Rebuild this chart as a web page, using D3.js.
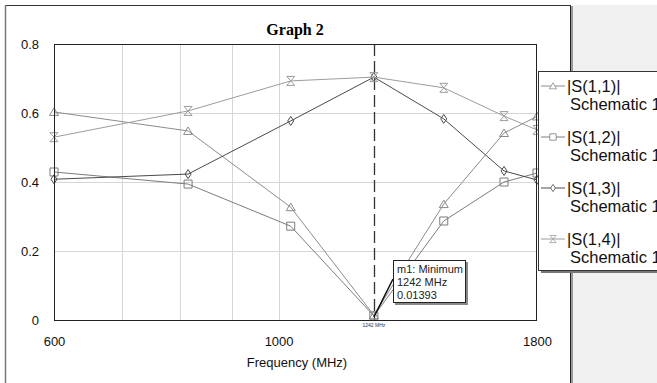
<!DOCTYPE html>
<html>
<head>
<meta charset="utf-8">
<script src="https://cdn.jsdelivr.net/npm/d3@7"></script>
<style>
  body { margin: 0; background: #fff; }
  svg { display: block; font-family: "Liberation Sans", Arial, sans-serif; }
</style>
</head>
<body>
<svg id="chart" width="657" height="383"></svg>
<script>
// sweep points (MHz) and the four traces
var freqs = [600, 814, 1028, 1242, 1456, 1670, 1800];
var s11 = [0.603, 0.548, 0.327, 0.0139, 0.336, 0.542, 0.590];
var s12 = [0.429, 0.394, 0.272, 0.012, 0.287, 0.400, 0.426];
var s13 = [0.408, 0.423, 0.577, 0.704, 0.583, 0.432, 0.406];
var s14 = [0.530, 0.606, 0.693, 0.704, 0.673, 0.591, 0.551];
var seriesNames = ["|S(1,1)|", "|S(1,2)|", "|S(1,3)|", "|S(1,4)|"];
var yTicks = [0, 0.2, 0.4, 0.6, 0.8];
var xTicks = [600, 1000, 1800];
var xGrid = [700, 800, 900, 1000];
var yGrid = [0.2, 0.4, 0.6];
var markerFreq = 1242;
var markerValue = 0.01393;

var series = [
  {name: seriesNames[0], values: s11, color: "#8c8c8c", shape: "triangle"},
  {name: seriesNames[1], values: s12, color: "#7c7c7c", shape: "square"},
  {name: seriesNames[2], values: s13, color: "#4a4a4a", shape: "diamond"},
  {name: seriesNames[3], values: s14, color: "#9c9c9c", shape: "hourglass"}
];

var svg = d3.select("#chart");
var pL = 54, pR = 537, pT = 44, pB = 320;

var x = d3.scaleLog().domain([600, 1800]).range([pL, pR]);
var y = d3.scaleLinear().domain([0, 0.8]).range([pB, pT]);

// window frame
svg.append("rect").attr("x", 573).attr("y", 5).attr("width", 84).attr("height", 378).attr("fill", "#f0f0f0");
svg.append("rect").attr("x", 571).attr("y", 6).attr("width", 2).attr("height", 377).attr("fill", "#9a9a9a");
svg.append("line").attr("x1", 570.5).attr("x2", 570.5).attr("y1", 5).attr("y2", 383).attr("stroke", "#222");
svg.append("line").attr("x1", 5).attr("x2", 571).attr("y1", 5.5).attr("y2", 5.5).attr("stroke", "#333");
svg.append("line").attr("x1", 5.5).attr("x2", 5.5).attr("y1", 5).attr("y2", 383).attr("stroke", "#777").attr("stroke-width", 1.5);

// title
svg.append("text")
  .attr("x", 295).attr("y", 35)
  .attr("text-anchor", "middle")
  .style("font-family", "'Liberation Serif', 'Times New Roman', serif")
  .style("font-weight", "bold")
  .style("font-size", "16px")
  .text("Graph 2");

// grid
svg.append("g").selectAll("line").data(xGrid).enter().append("line")
  .attr("x1", function(d){ return Math.round(x(d)) + 0.5; })
  .attr("x2", function(d){ return Math.round(x(d)) + 0.5; })
  .attr("y1", pT).attr("y2", pB)
  .attr("stroke", "#d6d6d6");
svg.append("g").selectAll("line").data(yGrid).enter().append("line")
  .attr("y1", function(d){ return Math.round(y(d)) + 0.5; })
  .attr("y2", function(d){ return Math.round(y(d)) + 0.5; })
  .attr("x1", pL).attr("x2", pR)
  .attr("stroke", "#d6d6d6");

// axes (labels only)
var yAxis = svg.append("g")
  .attr("transform", "translate(" + pL + ",0)")
  .call(d3.axisLeft(y).tickValues(yTicks).tickSize(0).tickPadding(15)
    .tickFormat(function(d){ return d === 0 ? "0" : d3.format(".1f")(d); }));
var xAxis = svg.append("g")
  .attr("transform", "translate(0," + pB + ")")
  .call(d3.axisBottom(x).tickValues(xTicks).tickSize(0).tickPadding(17).tickFormat(d3.format("d")));
[yAxis, xAxis].forEach(function(a){
  a.select(".domain").remove();
  a.selectAll("text").style("font-size", "13px").style("font-family", "'Liberation Sans', Arial, sans-serif").attr("fill", "#111");
});

svg.append("text")
  .attr("x", 297).attr("y", 367)
  .attr("text-anchor", "middle")
  .style("font-size", "13px")
  .attr("fill", "#111")
  .text("Frequency (MHz)");

// marker line
svg.append("line")
  .attr("x1", Math.round(x(markerFreq)) + 0.5).attr("x2", Math.round(x(markerFreq)) + 0.5)
  .attr("y1", pT).attr("y2", pB)
  .attr("stroke", "#333").attr("stroke-width", 1.3)
  .attr("stroke-dasharray", "12,5");

// marker symbol shapes
function shapePath(shape, cx, cy) {
  if (shape === "triangle")
    return "M" + (cx - 4.5) + "," + (cy + 3.5) + "L" + (cx + 4.5) + "," + (cy + 3.5) + "L" + cx + "," + (cy - 4) + "Z";
  if (shape === "square")
    return "M" + (cx - 4) + "," + (cy - 4) + "h8v8h-8Z";
  if (shape === "diamond")
    return "M" + cx + "," + (cy - 4.5) + "L" + (cx + 3) + "," + cy + "L" + cx + "," + (cy + 4.5) + "L" + (cx - 3) + "," + cy + "Z";
  return "M" + (cx - 4) + "," + (cy - 4.5) + "H" + (cx + 4) + "L" + (cx - 4) + "," + (cy + 4.5) + "H" + (cx + 4) + "Z";
}

var line = d3.line()
  .x(function(d, i){ return x(freqs[i]); })
  .y(function(d){ return y(d); });

var plot = svg.append("g");
series.forEach(function(s){
  plot.append("path")
    .attr("d", line(s.values))
    .attr("fill", "none")
    .attr("stroke", s.color)
    .attr("stroke-width", 1);
  plot.selectAll(null).data(s.values).enter().append("path")
    .attr("d", function(d, i){ return shapePath(s.shape, x(freqs[i]), y(d)); })
    .attr("fill", "none")
    .attr("stroke", s.color)
    .attr("stroke-width", 1);
});

// plot border
svg.append("rect")
  .attr("x", pL + 0.5).attr("y", pT + 0.5)
  .attr("width", pR - pL - 1).attr("height", pB - pT)
  .attr("fill", "none").attr("stroke", "#222");

// marker annotation
var mx = x(markerFreq), my = y(markerValue);
svg.append("line")
  .attr("x1", mx).attr("y1", my + 2).attr("x2", 393).attr("y2", 279)
  .attr("stroke", "#111").attr("stroke-width", 1.5);
svg.append("rect").attr("x", 395).attr("y", 262).attr("width", 73).attr("height", 43).attr("fill", "#8a8a8a");
svg.append("rect").attr("x", 393.5).attr("y", 260.5).attr("width", 72).attr("height", 42)
  .attr("fill", "#fff").attr("stroke", "#222");
var boxLines = ["m1: Minimum", markerFreq + " MHz", String(markerValue)];
svg.append("g").selectAll("text").data(boxLines).enter().append("text")
  .attr("x", 397).attr("y", function(d, i){ return 273 + i * 13; })
  .style("font-size", "11px")
  .attr("fill", "#222")
  .text(function(d){ return d; });
svg.append("text")
  .attr("x", mx).attr("y", 327)
  .attr("text-anchor", "middle")
  .style("font-size", "5px")
  .attr("fill", "#333")
  .text(markerFreq + " MHz");

// legend
var lg = svg.append("g");
lg.append("rect").attr("x", 541).attr("y", 74).attr("width", 130).attr("height", 199).attr("fill", "#777");
lg.append("rect").attr("x", 538.5).attr("y", 71.5).attr("width", 130).attr("height", 199)
  .attr("fill", "#fff").attr("stroke", "#333");
series.forEach(function(s, i){
  var ry = 86 + i * 51;
  lg.append("line").attr("x1", 541).attr("x2", 565).attr("y1", ry).attr("y2", ry)
    .attr("stroke", s.color);
  lg.append("path").attr("d", shapePath(s.shape, 553, ry))
    .attr("fill", "#fff").attr("stroke", s.color).attr("transform", "translate(553," + ry + ") scale(0.8) translate(-553," + (-ry) + ")");
  lg.append("text").attr("x", 567).attr("y", ry + 6)
    .style("font-size", "16.5px").attr("fill", "#111").text(s.name);
  lg.append("text").attr("x", 570).attr("y", ry + 24)
    .style("font-size", "16.5px").attr("fill", "#111").text("Schematic 1");
});
</script>
</body>
</html>
